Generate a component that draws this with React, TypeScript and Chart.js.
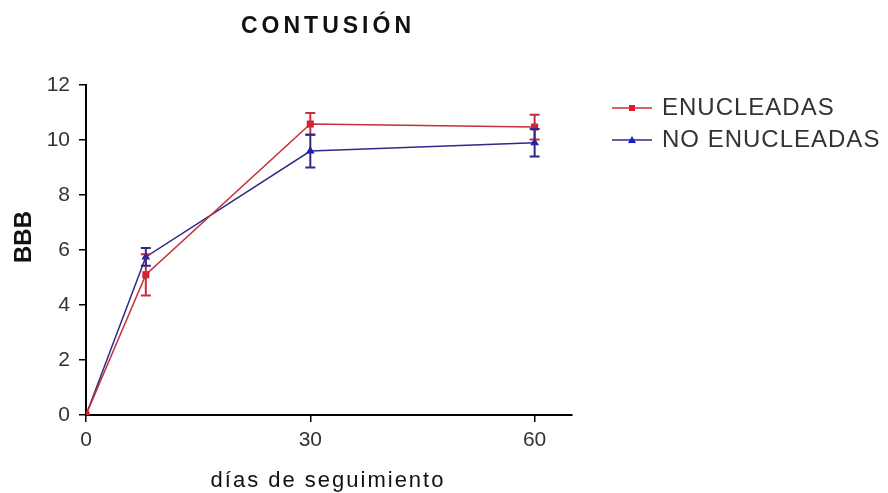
import React, { useEffect, useRef } from "react";
import { Chart, registerables } from "chart.js";

Chart.register(...registerables);

const days = [0, 8, 30, 60];
const enucleadas = [0, 5.1, 10.58, 10.47];
const enucleadasErr = [0, 0.75, 0.4, 0.45];
const noEnucleadas = [0, 5.75, 9.6, 9.9];
const noEnucleadasErr = [0, 0.32, 0.6, 0.5];
const xTickValues = [0, 30, 60];
const seriesNames = ["ENUCLEADAS", "NO ENUCLEADAS"];
const chartTitle = "CONTUSIÓN";
const xTitle = "días de seguimiento";
const yTitle = "BBB";

const RED = "#c4303c";
const RED_MARK = "#e01a28";
const BLUE = "#2d2a88";
const BLUE_MARK = "#1a1ac8";
const FONT = "'Liberation Sans', Arial, sans-serif";

const errorBars = [enucleadasErr, noEnucleadasErr];

const overlayPlugin = {
  id: "overlay",
  afterDatasetsDraw(chart: any) {
    const ctx = chart.ctx;
    const xs = chart.scales.x;
    const ys = chart.scales.y;
    chart.data.datasets.forEach((ds: any, i: number) => {
      const errs = errorBars[i];
      ctx.save();
      ctx.strokeStyle = ds.borderColor;
      ctx.lineWidth = 2;
      ds.data.forEach((p: any, j: number) => {
        const e = errs[j];
        if (!e) return;
        const px = xs.getPixelForValue(p.x);
        const y1 = ys.getPixelForValue(p.y + e);
        const y2 = ys.getPixelForValue(p.y - e);
        ctx.beginPath();
        ctx.moveTo(px, y1);
        ctx.lineTo(px, y2);
        ctx.moveTo(px - 5, y1);
        ctx.lineTo(px + 5, y1);
        ctx.moveTo(px - 5, y2);
        ctx.lineTo(px + 5, y2);
        ctx.stroke();
      });
      ctx.restore();
    });
  },
  afterDraw(chart: any) {
    const ctx = chart.ctx;
    ctx.save();
    // Title
    ctx.fillStyle = "#111";
    ctx.font = `bold 23px ${FONT}`;
    ctx.textAlign = "center";
    ctx.textBaseline = "alphabetic";
    (ctx as any).letterSpacing = "4px";
    ctx.fillText(chartTitle, 328, 33);
    // X title
    ctx.font = `22px ${FONT}`;
    (ctx as any).letterSpacing = "2px";
    ctx.fillText(xTitle, 328, 487);
    // Y title
    ctx.save();
    ctx.translate(24, 237);
    ctx.rotate(-Math.PI / 2);
    ctx.font = `bold 24px ${FONT}`;
    (ctx as any).letterSpacing = "0px";
    ctx.textBaseline = "middle";
    ctx.fillText(yTitle, 0, 0);
    ctx.restore();
    // Legend
    const rows = [
      { y: 108, line: RED, mark: RED_MARK, shape: "rect" },
      { y: 140, line: BLUE, mark: BLUE_MARK, shape: "tri" },
    ];
    rows.forEach((r, i) => {
      ctx.strokeStyle = r.line;
      ctx.lineWidth = 1.5;
      ctx.beginPath();
      ctx.moveTo(612, r.y);
      ctx.lineTo(652, r.y);
      ctx.stroke();
      ctx.fillStyle = r.mark;
      if (r.shape === "rect") {
        ctx.fillRect(629, r.y - 3, 6, 6);
      } else {
        ctx.beginPath();
        ctx.moveTo(632, r.y - 4);
        ctx.lineTo(636, r.y + 3);
        ctx.lineTo(628, r.y + 3);
        ctx.closePath();
        ctx.fill();
      }
      ctx.fillStyle = "#333";
      ctx.font = `24px ${FONT}`;
      (ctx as any).letterSpacing = "1px";
      ctx.textAlign = "left";
      ctx.textBaseline = "middle";
      ctx.fillText(seriesNames[i], 662, r.y);
    });
    (ctx as any).letterSpacing = "0px";
    ctx.restore();
  },
};

export default function App() {
  const ref = useRef<HTMLCanvasElement>(null);
  useEffect(() => {
    if (!ref.current) return;
    const chart = new Chart(ref.current, {
      type: "line",
      data: {
        datasets: [
          {
            label: seriesNames[0],
            data: days.map((d, i) => ({ x: d, y: enucleadas[i] })),
            borderColor: RED,
            backgroundColor: RED_MARK,
            borderWidth: 1.5,
            pointStyle: "rect",
            pointRadius: 5,
            pointBorderWidth: 0,
            tension: 0,
          },
          {
            label: seriesNames[1],
            data: days.map((d, i) => ({ x: d, y: noEnucleadas[i] })),
            borderColor: BLUE,
            backgroundColor: BLUE_MARK,
            borderWidth: 1.5,
            pointStyle: "triangle",
            pointRadius: 5,
            pointBorderWidth: 0,
            tension: 0,
          },
        ],
      },
      options: {
        animation: false,
        responsive: false,
        layout: { padding: { top: 85, right: 316, left: 0, bottom: 0 } },
        plugins: { legend: { display: false }, title: { display: false }, tooltip: { enabled: false } },
        scales: {
          x: {
            type: "linear",
            min: 0,
            max: 65,
            afterBuildTicks: (scale: any) => {
              scale.ticks = xTickValues.map((v) => ({ value: v }));
            },
            afterFit: (scale: any) => {
              scale.height = 78;
            },
            grid: { drawOnChartArea: false, drawTicks: true, tickLength: 7, color: "#000", lineWidth: 1.5 },
            border: { display: true, color: "#000", width: 2 },
            ticks: { font: { size: 21, family: FONT }, color: "#333", padding: 6, maxRotation: 0 },
          },
          y: {
            min: 0,
            max: 12,
            afterFit: (scale: any) => {
              scale.width = 86;
            },
            grid: { drawOnChartArea: false, drawTicks: true, tickLength: 7, color: "#000", lineWidth: 1.5 },
            border: { display: true, color: "#000", width: 2 },
            ticks: { stepSize: 2, font: { size: 21, family: FONT }, color: "#333", padding: 9 },
          },
        },
      },
      plugins: [overlayPlugin],
    } as any);
    return () => chart.destroy();
  }, []);
  return (
    <div style={{ position: "fixed", left: 0, top: 0, width: 888, height: 493, background: "#fff" }}>
      <canvas ref={ref} width={888} height={493} />
    </div>
  );
}
